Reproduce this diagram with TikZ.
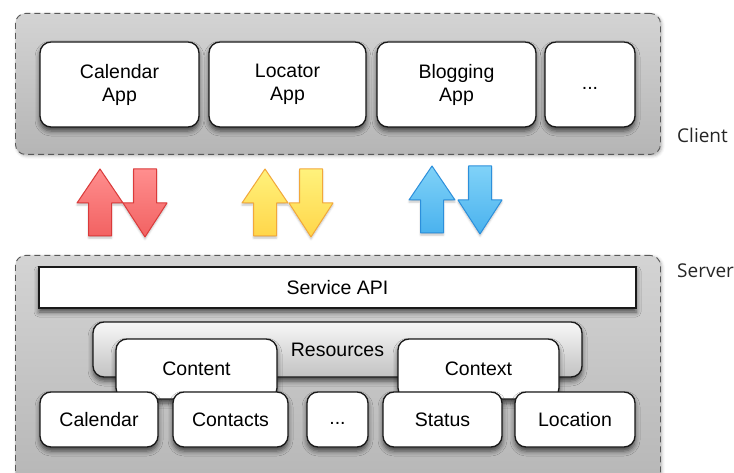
\documentclass[tikz,border=0pt]{standalone}
\usepackage{fontspec}
\setmainfont{Liberation Sans}
\newfontfamily\labelfont{Open Sans}
\usetikzlibrary{shadows.blur}

\definecolor{redtop}{HTML}{FF8E8E}
\definecolor{redbot}{HTML}{F26262}
\definecolor{redline}{HTML}{DA3A3A}
\definecolor{yeltop}{HTML}{FFF27C}
\definecolor{yelbot}{HTML}{FFD64A}
\definecolor{yelline}{HTML}{F2A83A}
\definecolor{blutop}{HTML}{80D2F8}
\definecolor{blubot}{HTML}{4AB2EE}
\definecolor{bluline}{HTML}{2C8FDB}

\begin{document}
\begin{tikzpicture}[x=1pt,y=-1pt,
  tier/.style={draw=black!65, dash pattern=on 6pt off 4pt, line width=0.9pt,
    rounded corners=10pt, top color=black!17, bottom color=black!29,
    blur shadow={shadow xshift=1.5pt, shadow yshift=-1.5pt, shadow blur radius=3pt, shadow opacity=30}},
  boxshadow/.style={blur shadow={shadow xshift=0pt, shadow yshift=-4pt,
    shadow blur radius=5pt, shadow opacity=65}},
  card/.style={draw=black!90, line width=1.3pt, fill=white, rounded corners=11pt,
    boxshadow, font=\fontsize{19.5}{23}\selectfont, align=center,
    inner sep=0pt, outer sep=0pt, anchor=north west},
  bar/.style={card, rounded corners=0pt},
  shelf/.style={card, fill=none, top color=black!3, bottom color=black!24},
  tierlabel/.style={anchor=base west, text=black!85, inner sep=0pt,
    font=\labelfont\fontsize{19}{21}\selectfont},
  uparr/.pic={\path[pic actions, line width=1pt, line join=round,
      blur shadow={shadow xshift=0pt, shadow yshift=-2pt, shadow blur radius=2pt, shadow opacity=25}]
      (-11.5,33) -- (-11.5,0) -- (-23,0) -- (0,-34) -- (23,0) -- (11.5,0) -- (11.5,33) -- cycle;},
  downarr/.pic={\path[pic actions, line width=1pt, line join=round,
      blur shadow={shadow xshift=0pt, shadow yshift=-2pt, shadow blur radius=2pt, shadow opacity=25}]
      (-11.5,-34) -- (11.5,-34) -- (11.5,0) -- (22,0) -- (0,34) -- (-22,0) -- (-11.5,0) -- cycle;},
  redarr/.style={draw=redline, top color=redtop, bottom color=redbot},
  yelarr/.style={draw=yelline, top color=yeltop, bottom color=yelbot},
  bluarr/.style={draw=bluline, top color=blutop, bottom color=blubot},
]
\useasboundingbox (0,0) rectangle (734,473);
\clip (0,0) rectangle (734,473);

% client tier
\node[tier, anchor=north west, minimum width=645pt, minimum height=141pt, inner sep=0pt] (client) at (15,13) {};
\node[card, minimum width=159pt, minimum height=85pt] (calapp) at (40,42) {Calendar\\App};
\node[card, minimum width=157pt, minimum height=85pt] (locapp) at (209,42) {Locator\\App};
\node[card, minimum width=159pt, minimum height=85pt] (blogapp) at (377,42) {Blogging\\App};
\node[card, minimum width=90pt, minimum height=85pt] (moreapp) at (545,42) {...\strut};
\node[tierlabel] (clientlabel) at (677,143) {Client};

% request / response arrows
\pic[redarr] (redup) at (100,203) {uparr};
\pic[redarr] (reddown) at (145,203) {downarr};
\pic[yelarr] (yelup) at (265,203) {uparr};
\pic[yelarr] (yeldown) at (311,203) {downarr};
\pic[bluarr] (bluup) at (432,200) {uparr};
\pic[bluarr] (bludown) at (480,200) {downarr};

% server tier
\node[tier, anchor=north west, minimum width=645pt, minimum height=240pt, inner sep=0pt] (server) at (15,255) {};
\node[tierlabel] (serverlabel) at (677,278) {Server};
\node[bar, minimum width=597pt, minimum height=41pt] (api) at (39,267) {Service API};
\node[shelf, minimum width=489pt, minimum height=55pt] (resources) at (93,322) {\raisebox{-2pt}{Resources}};
\node[card, minimum width=161pt, minimum height=60pt] (content) at (116,339) {Content};
\node[card, minimum width=161pt, minimum height=60pt] (context) at (398,339) {Context};
\node[card, minimum width=118pt, minimum height=55pt] (calendar) at (40,392) {Calendar};
\node[card, minimum width=115pt, minimum height=55pt] (contacts) at (173,392) {Contacts};
\node[card, minimum width=61pt, minimum height=55pt] (moreres) at (307,392) {...\strut};
\node[card, minimum width=119pt, minimum height=55pt] (status) at (383,392) {Status};
\node[card, minimum width=120pt, minimum height=55pt] (location) at (515,392) {Location};
\end{tikzpicture}
\end{document}
